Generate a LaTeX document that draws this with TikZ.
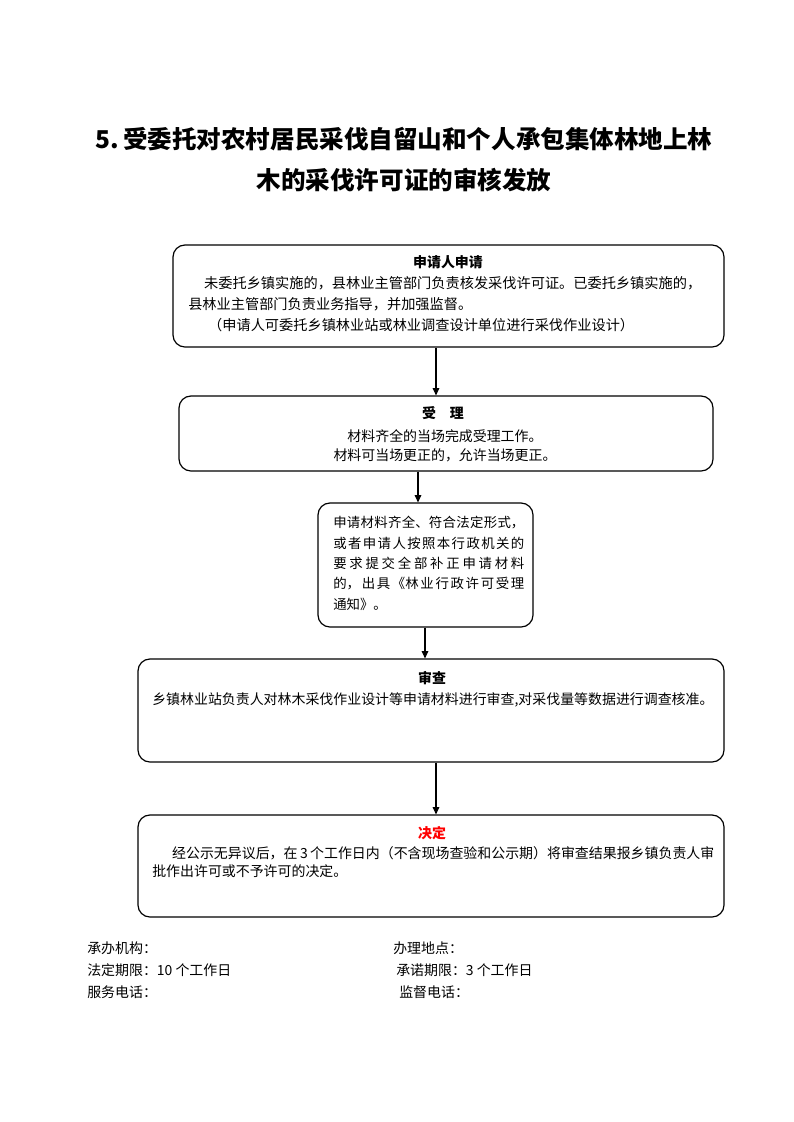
\documentclass[tikz,border=0pt]{standalone}
\usepackage{fontspec}
\setmainfont{Noto Sans CJK SC}
\XeTeXlinebreaklocale "zh"
\XeTeXlinebreakskip=0pt plus 5pt
\usetikzlibrary{arrows.meta,fit}
\begin{document}
\begin{tikzpicture}[
  x=0.7535pt, y=-0.7535pt,
  flowbox/.style={draw, line width=0.9pt, rounded corners=9pt, inner sep=0pt},
  boxtitle/.style={font=\fontsize{10.5}{13}\selectfont\bfseries, inner sep=0pt},
  boxtext/.style={font=\fontsize{10.5}{15}\selectfont, inner sep=0pt},
  foot/.style={font=\fontsize{10.5}{13}\selectfont, anchor=west, inner sep=0pt},
  >={Triangle[length=5.5pt,width=5pt]}
]
\useasboundingbox (0,0) rectangle (793,1122);

\node[font=\fontsize{18.5}{30.9}\selectfont\bfseries, align=center] (title) at (404,160)
  {5.\,受委托对农村居民采伐自留山和个人承包集体林地上林\\木的采伐许可证的审核发放};

\node[flowbox, fit={(173,245) (724,347)}] (apply) {};
\node[boxtitle] (applyT) at (448,262) {申请人申请};
\node[boxtext, font=\fontsize{10.7}{15.8}\selectfont, align=left, anchor=north west] (applyB) at (188,276)
  {\hspace*{12pt}未委托乡镇实施的，县林业主管部门负责核发采伐许可证。已委托乡镇实施的，\\
   县林业主管部门负责业务指导，并加强监督。\\
   \hspace*{15pt}（申请人可委托乡镇林业站或林业调查设计单位进行采伐作业设计）};

\node[flowbox, fit={(179,396) (713,471)}] (accept) {};
\node[boxtitle] (acceptT) at (443,413) {受\hspace{1em}理};
\node[boxtext, font=\fontsize{10.5}{14.3}\selectfont, align=center, anchor=north] (acceptB) at (445,429)
  {材料齐全的当场完成受理工作。\\材料可当场更正的，允许当场更正。};

\node[flowbox, fit={(318,503) (533,627)}] (notice) {};
\node[boxtext, font=\fontsize{10.1}{15.4}\selectfont, text width=144pt, align=justify, anchor=north west] (noticeB) at (333,516)
  {\noindent 申请材料齐全、符合法定形式，\linebreak
   或者申请人按照本行政机关的\linebreak
   要求提交全部补正申请材料\linebreak
   的，出具《林业行政许可受理\linebreak
   通知》。};

\node[flowbox, fit={(138,659) (724,762)}] (review) {};
\node[boxtitle] (reviewT) at (432,678) {审查};
\node[boxtext, anchor=west] (reviewB) at (152,700)
  {乡镇林业站负责人对林木采伐作业设计等申请材料进行审查,对采伐量等数据进行调查核准。};

\node[flowbox, fit={(138,815) (724,917)}] (decide) {};
\node[boxtitle, text=red] (decideT) at (432,833) {决定};
\node[boxtext, font=\fontsize{10.5}{13.6}\selectfont, text width=423.5pt, align=justify, anchor=north west] (decideB) at (152,846)
  {\noindent\hspace*{15pt}经公示无异议后，在 3 个工作日内（不含现场查验和公示期）将审查结果报乡镇负责人审\linebreak
   批作出许可或不予许可的决定。};

\coordinate (a1) at (436,0);
\coordinate (a2) at (418,0);
\coordinate (a3) at (425,0);
\coordinate (a4) at (436,0);
\draw[->, line width=0.8pt] (apply.south -| a1) -- (accept.north -| a1);
\draw[->, line width=0.8pt] (accept.south -| a2) -- (notice.north -| a2);
\draw[->, line width=0.8pt] (notice.south -| a3) -- (review.north -| a3);
\draw[->, line width=0.8pt] (review.south -| a4) -- (decide.north -| a4);

\node[foot] (org) at (87,948) {承办机构：};
\node[foot] (place) at (393,948) {办理地点：};
\node[foot] (limit) at (87,970) {法定期限：10 个工作日};
\node[foot] (promise) at (396,970) {承诺期限：3 个工作日};
\node[foot] (phone) at (87,992) {服务电话：};
\node[foot] (watch) at (399,992) {监督电话：};
\end{tikzpicture}
\end{document}
